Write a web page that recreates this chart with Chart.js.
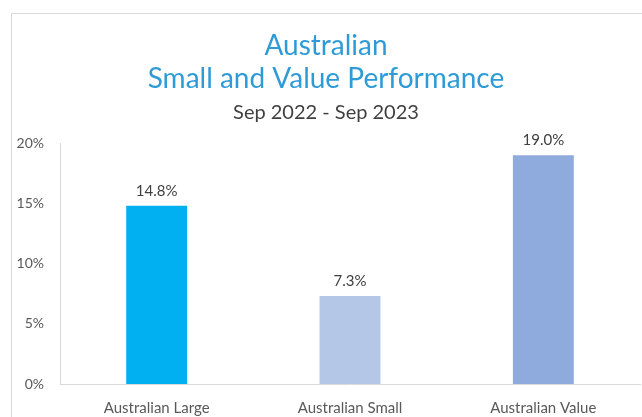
<!DOCTYPE html>
<html>
<head>
<meta charset="utf-8">
<script src="https://cdn.jsdelivr.net/npm/chart.js@4"></script>
<style>
  html, body { margin: 0; padding: 0; background: #fff; overflow: hidden; }
  #frame {
    position: absolute; left: 11px; top: 13px; width: 640px; height: 430px;
    border-left: 1px solid #d9d9d9; border-top: 1px solid #d9d9d9;
  }
  #wrap { position: absolute; left: 0; top: 0; width: 640px; height: 422px; }
</style>
</head>
<body>
<div id="frame"><div id="wrap"><canvas id="myChart"></canvas></div></div>
<script>
// chart data
var categories = ["Australian Large", "Australian Small", "Australian Value"]
var returns = [14.8, 7.3, 19.0]
var barColors = ["#00b0f0", "#b4c7e7", "#8faadc"]
var yTicks = [0, 5, 10, 15, 20]

var font = "Lato, 'Liberation Sans', sans-serif"

// draws the value above each bar
var valueLabels = {
    id: 'valueLabels',
    afterDatasetsDraw: function (chart) {
        var ctx = chart.ctx
        var meta = chart.getDatasetMeta(0)
        ctx.save()
        ctx.font = "15px " + font
        ctx.fillStyle = "#404040"
        ctx.textAlign = "center"
        ctx.textBaseline = "middle"
        meta.data.forEach(function (bar, i) {
            ctx.fillText(returns[i].toFixed(1) + "%", bar.x, bar.y - 15)
        })
        ctx.restore()
    }
}

var chart = new Chart(document.getElementById("myChart"), {
    type: 'bar',
    data: {
        labels: categories,
        datasets: [{
            data: returns,
            backgroundColor: barColors,
            barPercentage: 0.315,
            categoryPercentage: 1
        }]
    },
    options: {
        responsive: true,
        maintainAspectRatio: false,
        animation: false,
        layout: { padding: { left: 0, right: 12, top: 0, bottom: 4 } },
        plugins: {
            legend: { display: false },
            tooltip: { enabled: false },
            title: {
                display: true,
                text: ["Australian", "Small and Value Performance"],
                color: "#2e9bd6",
                font: { family: font, size: 28, weight: 'normal', lineHeight: 1.18 },
                padding: { top: 15, bottom: 3 }
            },
            subtitle: {
                display: true,
                text: "Sep 2022 - Sep 2023",
                color: "#404040",
                font: { family: font, size: 20, weight: 'normal', lineHeight: 1.2 },
                padding: { top: 2, bottom: 19 }
            }
        },
        scales: {
            x: {
                grid: { display: false, drawTicks: false },
                border: { display: true, color: "#d9d9d9", width: 1 },
                ticks: { color: "#595959", font: { family: font, size: 15 }, padding: 15 }
            },
            y: {
                min: 0,
                max: 20,
                afterBuildTicks: function (axis) {
                    axis.ticks = yTicks.map(function (v) { return { value: v } })
                },
                afterFit: function (axis) { axis.width = 48 },
                grid: { display: false, drawTicks: false },
                border: { display: true, color: "#d9d9d9", width: 1 },
                ticks: {
                    color: "#595959",
                    font: { family: font, size: 14 },
                    padding: 16,
                    callback: function (v) { return v + "%" }
                }
            }
        }
    },
    plugins: [valueLabels]
});
</script>
</body>
</html>
